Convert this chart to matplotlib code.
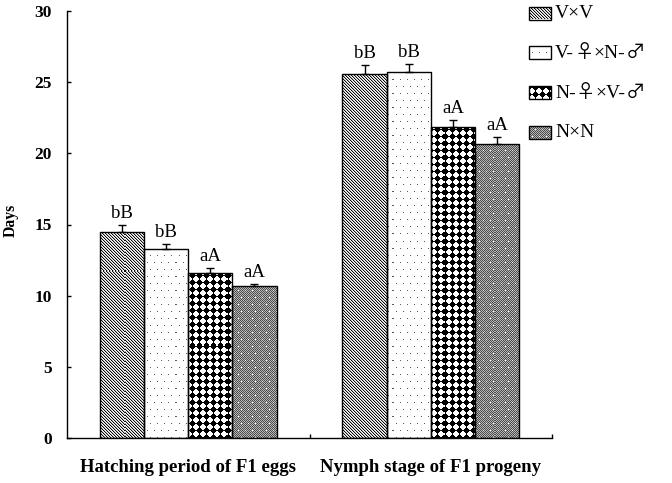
import numpy as np
import matplotlib
matplotlib.use("Agg")
import matplotlib.pyplot as plt
from matplotlib.patches import Rectangle
from matplotlib.offsetbox import TextArea, HPacker, AnnotationBbox

# ---------------- data ----------------
categories = ["Hatching period of F1 eggs", "Nymph stage of F1 progeny"]
treatments = ["V×V", "V-♀×N-♂", "N-♀×V-♂", "N×N"]

means_vxv = [14.5, 25.55]
means_vf_nm = [13.25, 25.72]
means_nf_vm = [11.6, 21.84]
means_nxn = [10.65, 20.64]

err_vxv = [0.47, 0.68]
err_vf_nm = [0.4, 0.54]
err_nf_vm = [0.35, 0.51]
err_nxn = [0.17, 0.49]

sig_vxv = ["bB", "bB"]
sig_vf_nm = ["bB", "bB"]
sig_nf_vm = ["aA", "aA"]
sig_nxn = ["aA", "aA"]

yticks = [0, 5, 10, 15, 20, 25, 30]
ylabel = "Days"

series_means = [means_vxv, means_vf_nm, means_nf_vm, means_nxn]
series_err = [err_vxv, err_vf_nm, err_nf_vm, err_nxn]
series_sig = [sig_vxv, sig_vf_nm, sig_nf_vm, sig_nxn]

# ---------------- figure ----------------
W, H, DPI = 672, 483, 100
fig = plt.figure(figsize=(W / DPI, H / DPI), dpi=DPI)
fig.patch.set_facecolor("white")

SERIF = ["Liberation Serif", "DejaVu Serif", "DejaVu Sans"]
CJK = ["Noto Sans CJK SC", "DejaVu Sans"]

ax_l, ax_r, ax_t, ax_b = 67, 552, 11, 438
ax = fig.add_axes([ax_l / W, (H - ax_b) / H, (ax_r - ax_l) / W, (ax_b - ax_t) / H])
ax.set_xlim(0, 2)
ax.set_ylim(0, 30)

# ---------------- textures (pixel patterns aligned to the figure grid) ----------------
yy, xx = np.mgrid[0:H, 0:W]


def pat_diag():
    m = (xx - yy) % 3
    return np.where(m == 0, 0.05, np.where(m == 1, 0.72, 1.0))


def stagger_dots(period=7):
    row = yy // period
    shift = (row % 2) * (period // 2)
    return ((yy % period) == 3) & (((xx + shift) % period) == 3)


def pat_sparse_dots():
    g = np.ones((H, W))
    g[stagger_dots()] = 0.35
    return g


def pat_diamonds():
    cx = np.abs(xx % 7 - 3)
    cy = np.abs(yy % 7 - 3)
    black = (cx + cy <= 3)
    return np.where(black, 0.0, 1.0)


def pat_gray_dots():
    g = np.where((xx + yy) % 2 == 0, 0.3, 0.72)
    g[stagger_dots()] = 1.0
    return g


patterns = [pat_diag(), pat_sparse_dots(), pat_diamonds(), pat_gray_dots()]

inv = ax.transData.inverted()
fx0, fy0 = inv.transform((0, 0))
fx1, fy1 = inv.transform((W, H))
fig_extent = (fx0, fx1, fy0, fy1)


def texture(patch, gray, zorder):
    rgb = np.dstack([gray, gray, gray]).astype(float)
    im = ax.imshow(rgb, extent=fig_extent, origin="upper", aspect="auto",
                   interpolation="nearest", zorder=zorder)
    im.set_clip_box(fig.bbox)
    im.set_clip_path(patch)
    return im


# ---------------- bars ----------------
x_centers = np.arange(len(categories)) + 0.5
bw = 0.182
for i, (m, e, s, pat) in enumerate(zip(series_means, series_err, series_sig, patterns)):
    xs = x_centers + (i - 1.5) * bw
    bars = ax.bar(xs, m, bw, facecolor="white", edgecolor="none", zorder=1)
    for p in bars.patches:
        texture(p, pat, 1.5)
    ax.bar(xs, m, bw, fill=False, edgecolor="black", linewidth=1.0, zorder=2)
    ax.errorbar(xs, m, yerr=[np.zeros(len(m)), e], fmt="none", ecolor="black",
                elinewidth=1.0, capsize=3, capthick=1.0, zorder=3)
    for xv, mv, ev, sv in zip(xs, m, e, s):
        ax.annotate(sv, (xv, mv + ev), xytext=(0, 5), textcoords="offset points",
                    ha="center", va="baseline", fontsize=13.5, family=SERIF)


# ---------------- legend (manual, figure pixels) ----------------
def label_box(lab, size=14):
    runs, cur, cur_cjk = [], "", None
    for ch in lab:
        is_cjk = ch in "♀♂"
        if cur and is_cjk != cur_cjk:
            runs.append((cur, cur_cjk))
            cur = ""
        cur += ch
        cur_cjk = is_cjk
    if cur:
        runs.append((cur, cur_cjk))
    kids = [TextArea(t, textprops=dict(fontsize=size, family=CJK if c else SERIF))
            for t, c in runs]
    return HPacker(children=kids, sep=0, pad=0, align="baseline")


leg_x, leg_y0, leg_dy = 529, 13, 39.7
pw, ph = 22, 13
for i, (lab, pat) in enumerate(zip(treatments, patterns)):
    yc = leg_y0 + i * leg_dy
    clip_rect = Rectangle((leg_x / W, (H - yc - ph / 2) / H), pw / W, ph / H,
                          transform=fig.transFigure)
    texture(clip_rect, pat, 6)
    rect_edge = Rectangle((leg_x / W, (H - yc - ph / 2) / H), pw / W, ph / H,
                          transform=fig.transFigure, fill=False, edgecolor="black",
                          linewidth=1.0, zorder=7)
    fig.add_artist(rect_edge)
    ab = AnnotationBbox(label_box(lab), ((leg_x + pw + 4) / W, (H - yc) / H),
                        xycoords="figure fraction", box_alignment=(0, 0.5),
                        frameon=False, pad=0, zorder=8)
    fig.add_artist(ab)

# ---------------- axes styling ----------------
ax.set_xlim(0, 2)
ax.set_ylim(0, 30)
ax.set_yticks(yticks)
ax.set_yticklabels([str(t) for t in yticks], fontsize=12.5, fontweight="bold", family=SERIF)
ax.tick_params(axis="y", direction="in", length=3, width=1, pad=11)
ax.set_xticks([1, 2])
ax.set_xticklabels(["", ""])
ax.tick_params(axis="x", which="major", direction="in", length=3, width=1)
ax.set_xticks(x_centers, minor=True)
ax.set_xticklabels(categories, minor=True, fontsize=13.5, fontweight="bold", family=SERIF)
ax.tick_params(axis="x", which="minor", length=0, pad=15)
for side in ("top", "right"):
    ax.spines[side].set_visible(False)
for side in ("left", "bottom"):
    ax.spines[side].set_linewidth(1.0)
    ax.spines[side].set_color("black")
ax.patch.set_facecolor("white")

fig.text(11 / W, 1 - 220 / H, ylabel, rotation=90, ha="center", va="center",
         fontsize=11.3, fontweight="bold", family=SERIF)

fig.savefig("out.png", dpi=DPI, facecolor="white")
